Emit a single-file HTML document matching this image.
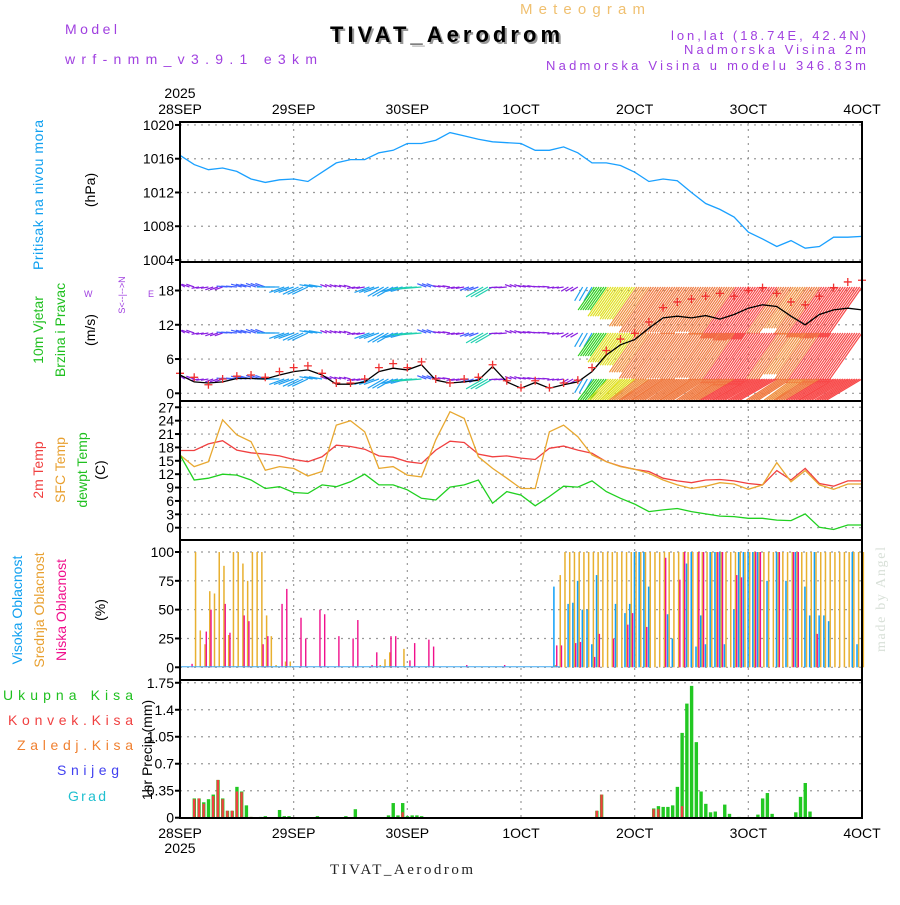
<!DOCTYPE html>
<html><head><meta charset="utf-8"><style>
html,body{margin:0;padding:0;background:#fff;}
svg text{font-family:"Liberation Sans",sans-serif;}
</style></head><body>
<svg id="chart" xmlns="http://www.w3.org/2000/svg" width="900" height="900" viewBox="0 0 900 900">
<g id="header">
<text x="65" y="34" font-size="14" fill="#a040e0" textLength="52">Model</text>
<text x="65" y="64" font-size="14" fill="#a040e0" textLength="252">wrf-nmm_v3.9.1 e3km</text>
<text x="520" y="14" font-size="15" fill="#f0c070" textLength="125">Meteogram</text>
<text x="332" y="44" font-size="22" font-weight="bold" fill="#999" textLength="230">TIVAT_Aerodrom</text>
<text x="330" y="42" font-size="22" font-weight="bold" fill="#000" textLength="230">TIVAT_Aerodrom</text>
<text x="866" y="40" font-size="13" fill="#a040e0" text-anchor="end" textLength="195">lon,lat (18.74E, 42.4N)</text>
<text x="866" y="54" font-size="13" fill="#a040e0" text-anchor="end" textLength="182">Nadmorska Visina 2m</text>
<text x="866" y="70" font-size="13" fill="#a040e0" text-anchor="end" textLength="320">Nadmorska Visina u modelu 346.83m</text>
<text x="330" y="874" font-size="15" fill="#222" style="font-family:'Liberation Serif',serif" textLength="143">TIVAT_Aerodrom</text>
<text x="0" y="0" font-size="14" fill="#d8e0d8" transform="translate(885,652) rotate(-90)" style="font-family:'Liberation Serif',serif" textLength="105">made by Angel</text>
</g>
<g id="labels">
<text font-size="14" fill="#10a0f0" transform="translate(43,195) rotate(-90)" text-anchor="middle" textLength="150">Pritisak na nivou mora</text>
<text font-size="14" fill="#000" transform="translate(95,190) rotate(-90)" text-anchor="middle">(hPa)</text>
<text font-size="14" fill="#20c020" transform="translate(43,330) rotate(-90)" text-anchor="middle">10m Vjetar</text>
<text font-size="14" fill="#20c020" transform="translate(65,330) rotate(-90)" text-anchor="middle">Brzina i Pravac</text>
<text font-size="14" fill="#000" transform="translate(95,330) rotate(-90)" text-anchor="middle">(m/s)</text>
<text font-size="9" fill="#a040e0" x="84" y="297">W</text>
<text font-size="9" fill="#a040e0" transform="translate(125,295) rotate(-90)" text-anchor="middle">S&lt;--|--&gt;N</text>
<text font-size="9" fill="#a040e0" x="148" y="297">E</text>
<text font-size="14" fill="#f04040" transform="translate(43,470) rotate(-90)" text-anchor="middle">2m Temp</text>
<text font-size="14" fill="#e8a030" transform="translate(65,470) rotate(-90)" text-anchor="middle">SFC Temp</text>
<text font-size="14" fill="#20c020" transform="translate(87,470) rotate(-90)" text-anchor="middle">dewpt Temp</text>
<text font-size="14" fill="#000" transform="translate(105,470) rotate(-90)" text-anchor="middle">(C)</text>
<text font-size="14" fill="#10a0f0" transform="translate(22,610) rotate(-90)" text-anchor="middle">Visoka Oblacnost</text>
<text font-size="14" fill="#e8a030" transform="translate(44,610) rotate(-90)" text-anchor="middle">Srednja Oblacnost</text>
<text font-size="14" fill="#f0108c" transform="translate(66,610) rotate(-90)" text-anchor="middle">Niska Oblacnost</text>
<text font-size="14" fill="#000" transform="translate(105,610) rotate(-90)" text-anchor="middle">(%)</text>
<text font-size="14" fill="#20c020" x="3" y="700" textLength="130">Ukupna Kisa</text>
<text font-size="14" fill="#f04040" x="8" y="725" textLength="125">Konvek.Kisa</text>
<text font-size="14" fill="#f08030" x="17" y="750" textLength="116">Zaledj.Kisa</text>
<text font-size="14" fill="#4040f0" x="57" y="775" textLength="62">Snijeg</text>
<text font-size="14" fill="#20c0d0" x="68" y="801" textLength="38">Grad</text>
<text font-size="14" fill="#000" transform="translate(152,750) rotate(-90)" text-anchor="middle">1hr Precip (mm)</text>
</g>
<g id="grid"></g>
<g id="marks"></g>
<g id="axes"></g>
</svg>
<script>
const dayLabels=["28SEP","29SEP","30SEP","1OCT","2OCT","3OCT","4OCT"];
const pressTicks=[1004,1008,1012,1016,1020];
const windTicks=[0,6,12,18];
const tempTicks=[0,3,6,9,12,15,18,21,24,27];
const cloudTicks=[0,25,50,75,100];
const precipTicks=[0,0.35,0.7,1.05,1.4,1.75];
const precipTickLabels=["0","0.35","0.7","1.05","1.4","1.75"];
// 3-hourly series, hours 0..144
const pressure=[1016.4,1015.3,1014.7,1014.9,1014.5,1013.6,1013.2,1013.5,1013.6,1013.3,1014.4,1015.5,1015.9,1015.9,1016.7,1017.0,1017.8,1017.8,1018.2,1019.1,1018.7,1018.3,1018.0,1017.9,1017.8,1017.0,1017.0,1017.4,1016.7,1015.5,1015.5,1015.2,1014.4,1013.3,1013.6,1013.4,1012.0,1010.7,1010.0,1009.1,1007.3,1006.5,1005.6,1006.3,1005.4,1005.6,1006.7,1006.7,1006.8];
const windSpeed=[3.2,2.0,1.8,2.0,2.6,2.6,2.5,3.2,3.8,4.1,3.2,1.6,1.6,2.0,3.8,4.4,4.1,5.0,2.3,1.8,2.0,2.3,4.7,2.0,0.9,1.9,0.9,1.5,2.0,3.8,6.7,8.5,9.4,11.4,13.2,13.5,13.2,13.6,13.0,13.8,14.9,15.5,15.2,13.5,12.0,13.8,14.6,14.9,14.6];
const windGust=[3.5,2.8,1.5,2.5,3.0,3.2,2.8,3.8,4.5,4.8,3.5,1.8,1.8,2.5,4.5,5.2,4.5,5.5,2.5,1.8,2.5,2.8,5.0,2.2,1.0,2.2,1.0,1.8,2.3,4.5,7.5,9.5,10.5,12.5,15.0,16.0,16.5,17.0,17.5,17.0,18.0,18.5,17.5,16.0,15.5,17.0,18.5,19.5,19.8];
const windDir=[190,200,170,160,185,195,200,180,160,155,190,200,195,170,160,150,165,175,200,190,170,160,150,175,200,190,185,170,150,120,125,125,125,125,125,125,125,125,125,125,125,125,125,125,125,125,125,125,125];
const temp2m=[17.3,17.3,18.8,19.5,17.4,16.8,16.5,16.1,15.3,14.8,15.9,18.5,18.2,17.6,16.1,15.8,14.8,14.4,17.4,19.4,19.1,16.5,15.9,16.1,15.6,15.3,17.8,18.3,17.4,16.7,14.8,13.8,13.1,12.6,11.1,10.5,10.1,10.7,10.8,10.5,9.9,9.6,12.8,10.7,13.3,9.9,9.3,10.5,10.5];
const tempSfc=[16.3,13.7,14.8,24.2,20.8,19.3,12.9,13.7,13.3,11.6,12.6,23.0,24.0,21.5,13.3,13.7,11.8,11.4,19.7,26.0,24.5,15.9,13.3,11.1,8.8,8.8,21.5,23.0,20.4,16.3,14.8,13.7,13.1,12.2,10.7,9.6,8.8,9.3,10.1,9.8,8.6,9.6,14.6,10.3,12.8,9.6,8.6,9.8,9.8];
const tempDew=[16.3,10.7,11.1,12.0,11.8,10.7,8.8,9.2,7.9,7.7,9.6,9.2,10.3,12.0,9.6,9.6,8.5,6.6,6.2,9.1,9.6,10.7,5.5,8.1,7.3,4.9,7.0,9.3,9.1,10.5,8.1,6.6,5.3,3.6,4.0,4.3,3.6,3.1,2.6,2.5,2.1,2.1,1.7,1.6,3.1,0.1,-0.4,0.6,0.6];
// hourly cloud cover, hours 0..144
const cloudHigh=new Array(79).fill(0).concat([70,0,0,55,56,75,50,50,20,80,0,0,0,55,0,47,55,100,100,100,70,0,0,0,46,25,0,0,90,100,18,45,20,100,100,100,20,0,50,100,100,100,100,100,0,75,0,100,0,75,0,100,0,70,45,100,45,45,40,0,0,0,0,100,20,0]);
const cloudMid=[0,0,0,100,32,20,66,64,100,88,28,100,100,90,75,100,100,100,45,27,2,0,5,5].concat(new Array(18).fill(0),[2,7,13,0,0,16],new Array(31).fill(0),[2,80],new Array(64).fill(100));
const lowHours=[2,5,6,9,10,13,14,17,18,21,22,25,26,29,30,33,36,37,40,41,44,45,48,49,52,53,60,68,79,80,83,84,87,88,91,94,95,98,102,105,106,109,110,113,114,117,118,121,122,126,129,130,134];
const lowVals=[3,31,50,55,30,45,40,20,27,55,68,43,25,50,46,27,25,41,2,13,27,27,6,21,24,18,2,2,19,19,21,22,9,29,25,37,47,35,95,76,100,100,100,100,100,80,78,100,100,100,100,100,29];
// hourly precipitation
const precipHours=[3,4,5,6,7,8,9,10,11,12,13,14,15,17,18,21,22,23,29,35,37,44,45,46,47,48,49,50,51,88,89,100,101,102,103,104,105,106,107,108,109,110,111,112,113,115,116,118,122,123,124,125,130,131,132,133];
const precipTotal=[0.25,0.25,0.2,0.24,0.3,0.49,0.25,0.09,0.09,0.4,0.34,0.16,0.01,0.01,0.02,0.1,0.02,0.02,0.02,0.02,0.11,0.03,0.19,0.03,0.19,0.02,0.03,0.03,0.02,0.09,0.3,0.12,0.15,0.14,0.14,0.16,0.4,1.1,1.48,1.71,0.98,0.34,0.18,0.07,0.08,0.17,0.05,0.01,0.04,0.25,0.32,0.05,0.07,0.27,0.45,0.08];
const convHours=[3,4,5,7,8,9,10,11,12,13,15,47,88,89,100,101,106];
const convVals=[0.24,0.25,0.18,0.28,0.49,0.24,0.09,0.09,0.34,0.33,0.01,0.07,0.09,0.3,0.11,0.11,0.15];

const NS="http://www.w3.org/2000/svg";
const X0=180,X1=862;
const xOf=h=>X0+h*(X1-X0)/144;
const yP=v=>260-(v-1004)*8.44;
const yW=v=>393.3-v*5.71;
const yT=v=>527.7-v*4.46;
const yC=v=>667.3-v*1.153;
const yR=v=>817.7-v*77.1;
const panels=[[122,262],[262,401],[401,540],[540,680],[680,818]];
function mk(tag,attrs,parent){const e=document.createElementNS(NS,tag);for(const k in attrs)e.setAttribute(k,attrs[k]);parent.appendChild(e);return e;}
const grid=document.getElementById('grid'),marks=document.getElementById('marks'),axes=document.getElementById('axes');

dayLabels.forEach((d,i)=>{
  const x=xOf(i*24);
  if(i>0&&i<6){const l=mk('line',{x1:x,x2:x,y1:122,y2:818,stroke:'#999','stroke-dasharray':'2,5','stroke-width':1.2},grid);
  
  }
  const t=mk('text',{x:x,y:114,'font-size':14,'text-anchor':'middle',fill:'#000'},axes);t.textContent=d;
  
  
  const b=mk('text',{x:x,y:838,'font-size':14,'text-anchor':'middle',fill:'#000'},axes);b.textContent=d;
  
  
});
[[98],[853]].forEach(([y])=>{const t=mk('text',{x:180,y:y,'font-size':14,'text-anchor':'middle',fill:'#000'},axes);t.textContent='2025';
  
  });

function yAxis(ticks,labels,fy,name){
  ticks.forEach((v,i)=>{
    const y=fy(v);
    const g=mk('line',{x1:X0,x2:X1,y1:y,y2:y,stroke:'#999','stroke-dasharray':'2,5','stroke-width':1.2},grid);
    
    
    const tk=mk('line',{x1:X0-5,x2:X0,y1:y,y2:y,stroke:'#000','stroke-width':2},axes);
    
    
    const t=mk('text',{x:X0-6,y:y+5,'font-size':14,'text-anchor':'end',fill:'#000'},axes);t.textContent=labels?labels[i]:String(v);
    
    
  });
}
yAxis(pressTicks,null,yP,'pressure');
yAxis(windTicks,null,yW,'wind');
yAxis(tempTicks,null,yT,'temp');
yAxis(cloudTicks,null,yC,'cloud');
yAxis(precipTicks,precipTickLabels,yR,'precip');

function line(vals,fy,color,name){
  const pts=vals.map((v,i)=>xOf(i*3).toFixed(1)+','+fy(v).toFixed(1)).join(' ');
  const p=mk('polyline',{points:pts,fill:'none',stroke:color,'stroke-width':1.3},marks);
  
  
}
line(pressure,yP,'#1aa0ff','pressure-line');

function windColor(s){
  if(s<2.2)return '#8a20e0';if(s<3)return '#4060ff';if(s<4.5)return '#20a0f0';
  if(s<6)return '#20d0b0';if(s<8)return '#30d020';if(s<9.5)return '#e0e020';if(s<12.5)return '#f09040';if(s<14)return '#f07a40';return '#f84848';
}
const rows=[287,333,379];
const wg=mk('g',{},marks);


rows.forEach(ry=>{
  windSpeed.forEach((s,i)=>{
    const x=xOf(i*3),a=windDir[i]*Math.PI/180,L=Math.max(7,s*4.2);
    const c=windColor(s),n=s>6?6:3,step=s>6?2.4:4.7;
    for(let k=0;k<n;k++){
      const x0=x-k*step;if(x0<X0+1)continue;
      let x2=x0+Math.cos(a)*L,y2=ry+Math.sin(a)*L;
      const ln=mk('line',{x1:x0,y1:ry,x2:Math.max(X0,x2),y2:Math.min(400,y2),stroke:c,'stroke-width':1.2},wg);
      
      
    }
  });
});
line(windSpeed,yW,'#000','wind-speed-line');
windGust.forEach((g,i)=>{
  const x=xOf(i*3),y=yW(g);
  const p=mk('path',{d:`M${x-4},${y}h8M${x},${y-4}v8`,stroke:'#f03030','stroke-width':1.3},marks);
  
  
});

line(temp2m,yT,'#f04040','temp-2m-line');
line(tempSfc,yT,'#e8a830','temp-sfc-line');
line(tempDew,yT,'#20d020','dewpoint-line');

function bar(x,v,fy,w,color,name){
  const y=fy(v),y0=fy(0);
  const r=mk('rect',{x:x,y:Math.min(y,y0-0.8),width:w,height:Math.max(0.8,y0-y),fill:color},marks);
  
  
}
cloudMid.forEach((v,h)=>{if(v>0)bar(xOf(h)+0.6,v,yC,1.5,'#e8b030','cloud-mid-bar');});
cloudHigh.forEach((v,h)=>{if(v>0)bar(xOf(h)-1.0,v,yC,1.5,'#10a0f8','cloud-high-bar');});
lowHours.forEach((h,i)=>bar(xOf(h)+1.9,lowVals[i],yC,1.4,'#f0108c','cloud-low-bar'));
const cb=mk('line',{x1:X0,x2:560,y1:yC(0)-0.5,y2:yC(0)-0.5,stroke:'#40a8f0','stroke-width':1},marks);



precipHours.forEach((h,i)=>bar(xOf(h)-1.6,precipTotal[i],yR,3.4,'#22c822','precip-total-bar'));
convHours.forEach((h,i)=>bar(xOf(h)-1.2,convVals[i],yR,2.4,'#f04040','precip-conv-bar'));

panels.forEach(([a,b])=>{
  const r=mk('rect',{x:X0,y:a,width:X1-X0,height:b-a,fill:'none',stroke:'#000','stroke-width':2},axes);
  
  
});
</script>
</body></html>
